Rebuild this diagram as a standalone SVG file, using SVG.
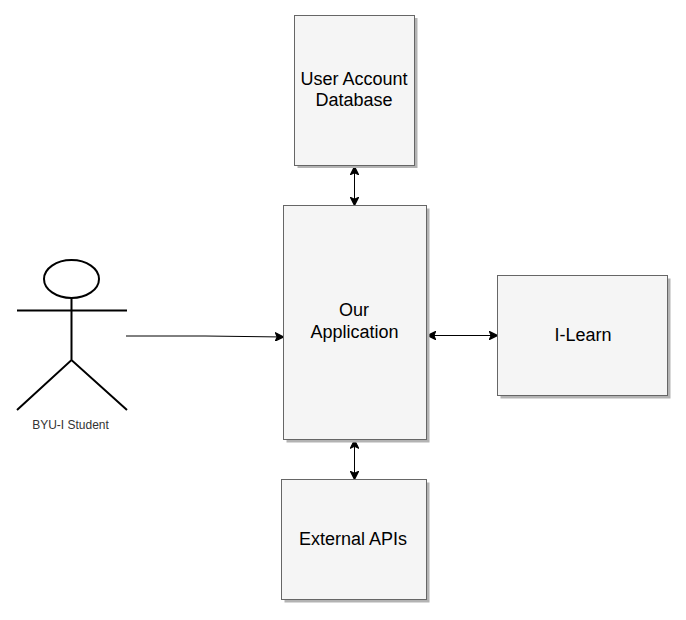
<svg xmlns="http://www.w3.org/2000/svg" width="686" height="620" viewBox="0 0 686 620">
<style>
text{font-family:"Liberation Sans",Arial,sans-serif;fill:#000;text-anchor:middle}
.t{font-size:18px}
.box{fill:#f5f5f5;stroke:#666;stroke-width:1}
.shadow{fill:#b3b3b3}
.c{fill:none;stroke:#000;stroke-width:1}
.a{fill:none;stroke:#000;stroke-width:2}
</style>
<defs>
<marker id="ah" viewBox="0 0 10 10" refX="9.500" refY="5" markerWidth="9" markerHeight="9" markerUnits="userSpaceOnUse" orient="auto-start-reverse">
<path d="M0.500 0.500L9.500 5L0.500 9.500L2.500 5Z" fill="#000" stroke="#000" stroke-width="1.300"/>
</marker>
</defs>
<rect width="686" height="620" fill="#fff"/>
<g id="connectors">
<path class="c" d="M354.500 166.500V205.500" marker-start="url(#ah)" marker-end="url(#ah)"/>
<path class="c" d="M354.500 440V479.500" marker-start="url(#ah)" marker-end="url(#ah)"/>
<path class="c" d="M427.500 335.500H497.500" marker-start="url(#ah)" marker-end="url(#ah)"/>
<path class="c" d="M126 336L205 336L283.500 337" marker-end="url(#ah)"/>
</g>
<g id="user-db">
<rect class="shadow" x="297.500" y="18" width="120" height="150"/>
<rect class="box" x="294.500" y="15.500" width="120" height="150"/>
<text class="t" x="354" y="85">User Account</text>
<text class="t" x="354" y="106">Database</text>
</g>
<g id="app">
<rect class="shadow" x="286.500" y="208.500" width="143" height="234"/>
<rect class="box" x="283.500" y="205.500" width="143" height="234"/>
<text class="t" x="354" y="316">Our</text>
<text class="t" x="354.500" y="338">Application</text>
</g>
<g id="ilearn">
<rect class="shadow" x="500.500" y="278.500" width="170" height="120"/>
<rect class="box" x="497.500" y="275.500" width="170" height="120"/>
<text class="t" x="583" y="341">I-Learn</text>
</g>
<g id="apis">
<rect class="shadow" x="284.500" y="482.500" width="145" height="120"/>
<rect class="box" x="281.500" y="479.500" width="145" height="120"/>
<text class="t" x="353" y="545">External APIs</text>
</g>
<g id="student">
<ellipse class="a" cx="71.500" cy="279" rx="27.500" ry="19"/>
<path class="a" d="M71.500 298V360M17 310.500H127M17 410L71.500 360L127 410"/>
<text x="70.500" y="429" font-size="12" style="fill:#333">BYU-I Student</text>
</g>
</svg>
